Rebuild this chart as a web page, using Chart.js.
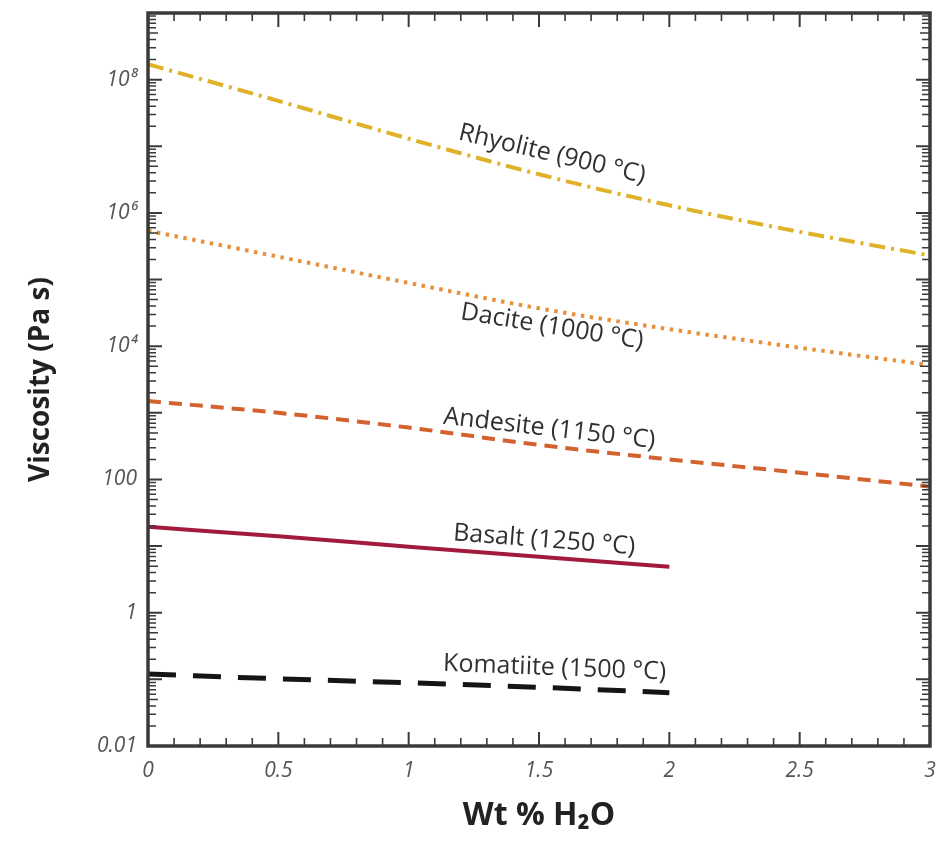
<!DOCTYPE html>
<html>
<head>
<meta charset="utf-8">
<script src="https://cdn.jsdelivr.net/npm/chart.js@4.4.1/dist/chart.umd.min.js"></script>
<style>
  html, body { margin: 0; padding: 0; background: #fff; }
  #viscChart { display: block; }
</style>
</head>
<body>
<canvas id="viscChart" width="945" height="842"></canvas>
<script>
// wt % H2O sample points (basalt and komatiite stop at 2 %)
const waterFull = [0, 0.5, 1, 1.5, 2, 2.5, 3];
const waterShort = [0, 0.5, 1, 1.5, 2];

// viscosity, Pa s
const rhyolite = [1.7e8, 4.8e7, 1.3e7, 3.8e6, 1.3e6, 5.2e5, 2.3e5];
const dacite = [5.4e5, 2.2e5, 8.9e4, 3.7e4, 1.8e4, 9.5e3, 5.2e3];
const andesite = [1500, 1000, 600, 330, 200, 126, 78];
const basalt = [19.5, 14, 9.8, 6.9, 4.9];
const komatiite = [0.12, 0.102, 0.089, 0.076, 0.063];

// y axis labels (every second decade)
const yLabelValues = [0.01, 1, 100, 1e4, 1e6, 1e8];
const yTickLabels = ['0.01', '1', '100', '10\u2074', '10\u2076', '10\u2078'];

// curve captions
const curveLabels = ['Rhyolite (900 \u00b0C)', 'Dacite (1000 \u00b0C)', 'Andesite (1150 \u00b0C)', 'Basalt (1250 \u00b0C)', 'Komatiite (1500 \u00b0C)'];
const labelAtX = [1.55, 1.55, 1.54, 1.52, 1.56];
const labelAtY = [7.6e6, 1.95e4, 575, 12.3, 0.148];
const labelTilt = [13.3, 9.3, 6.6, 4.4, 2.2];

const toPoints = (xs, ys) => xs.map((x, i) => ({ x: x, y: ys[i] }));

const frameColor = '#3a3a3a';

// inward ticks on all four sides + heavy frame + curve captions
const framePlugin = {
  id: 'framePlugin',
  afterDatasetsDraw(chart) {
    const { ctx, chartArea: a, scales: { x, y } } = chart;
    ctx.save();
    ctx.strokeStyle = frameColor;

    // x ticks every 0.1, longer every 0.5
    for (let i = 0; i <= 30; i++) {
      const px = x.getPixelForValue(i / 10);
      const len = i % 5 === 0 ? 14 : 8;
      ctx.lineWidth = i % 5 === 0 ? 2 : 1.6;
      ctx.beginPath();
      ctx.moveTo(px, a.bottom); ctx.lineTo(px, a.bottom - len);
      ctx.moveTo(px, a.top); ctx.lineTo(px, a.top + len);
      ctx.stroke();
    }

    // log y ticks
    for (let e = -2; e <= 8; e++) {
      for (let m = 1; m <= 9; m++) {
        const py = y.getPixelForValue(m * Math.pow(10, e));
        const len = m === 1 ? 14 : (m === 5 ? 10 : 8);
        ctx.lineWidth = m === 1 ? 2 : 1.5;
        ctx.beginPath();
        ctx.moveTo(a.left, py); ctx.lineTo(a.left + len, py);
        ctx.moveTo(a.right, py); ctx.lineTo(a.right - len, py);
        ctx.stroke();
      }
    }

    ctx.lineWidth = 3.5;
    ctx.strokeRect(a.left, a.top, a.right - a.left, a.bottom - a.top);

    ctx.fillStyle = '#303030';
    ctx.font = "25px 'Open Sans', sans-serif";
    ctx.textAlign = 'center';
    ctx.textBaseline = 'middle';
    curveLabels.forEach((txt, i) => {
      ctx.save();
      ctx.translate(x.getPixelForValue(labelAtX[i]), y.getPixelForValue(labelAtY[i]));
      ctx.rotate(labelTilt[i] * Math.PI / 180);
      ctx.fillText(txt, 0, 0);
      ctx.restore();
    });
    ctx.restore();
  }
};

const lineStyle = {
  pointRadius: 0,
  fill: false,
  borderWidth: 4,
  cubicInterpolationMode: 'monotone',
  borderCapStyle: 'butt'
};

new Chart(document.getElementById('viscChart'), {
  type: 'line',
  data: {
    datasets: [
      { ...lineStyle, label: 'Rhyolite', data: toPoints(waterFull, rhyolite), borderColor: '#dfb22a', borderDash: [16, 6, 3, 6] },
      { ...lineStyle, label: 'Dacite', data: toPoints(waterFull, dacite), borderColor: '#e8913c', borderDash: [3.5, 5.5] },
      { ...lineStyle, label: 'Andesite', data: toPoints(waterFull, andesite), borderColor: '#d3622e', borderDash: [13, 8] },
      { ...lineStyle, label: 'Basalt', data: toPoints(waterShort, basalt), borderColor: '#a21a3c' },
      { ...lineStyle, label: 'Komatiite', data: toPoints(waterShort, komatiite), borderColor: '#151515', borderWidth: 5, borderDash: [28, 17] }
    ]
  },
  options: {
    responsive: false,
    animation: false,
    layout: { padding: { top: 13, right: 15, left: 0, bottom: 0 } },
    plugins: {
      legend: { display: false },
      tooltip: { enabled: false }
    },
    scales: {
      x: {
        type: 'linear',
        min: 0,
        max: 3,
        grid: { display: false, drawTicks: false },
        border: { display: false },
        ticks: {
          stepSize: 0.5,
          padding: 12,
          color: '#555',
          maxRotation: 0,
          callback: v => String(v),
          font: { family: "'Open Sans', sans-serif", size: 21, style: 'italic' }
        },
        title: {
          display: true,
          text: 'Wt % H\u2082O',
          color: '#222',
          padding: { top: 0, bottom: 7 },
          font: { family: "'Open Sans', sans-serif", size: 32, weight: 'bold' }
        },
        afterFit: s => { s.height = 96; s.paddingLeft = 0; s.paddingRight = 0; }
      },
      y: {
        type: 'logarithmic',
        min: 0.01,
        max: 1e9,
        grid: { display: false, drawTicks: false },
        border: { display: false },
        afterBuildTicks: s => { s.ticks = yLabelValues.map(v => ({ value: v })); },
        ticks: {
          padding: 11,
          color: '#555',
          callback: (v, i) => yTickLabels[i],
          font: { family: "'Open Sans', sans-serif", size: 21, style: 'italic' }
        },
        title: {
          display: true,
          text: 'Viscosity (Pa s)',
          color: '#222',
          padding: { top: 24, bottom: 0 },
          font: { family: "'Open Sans', sans-serif", size: 28, weight: 'bold' }
        },
        afterFit: s => { s.width = 148; s.paddingTop = 0; s.paddingBottom = 0; }
      }
    }
  },
  plugins: [framePlugin]
});
</script>
</body>
</html>
